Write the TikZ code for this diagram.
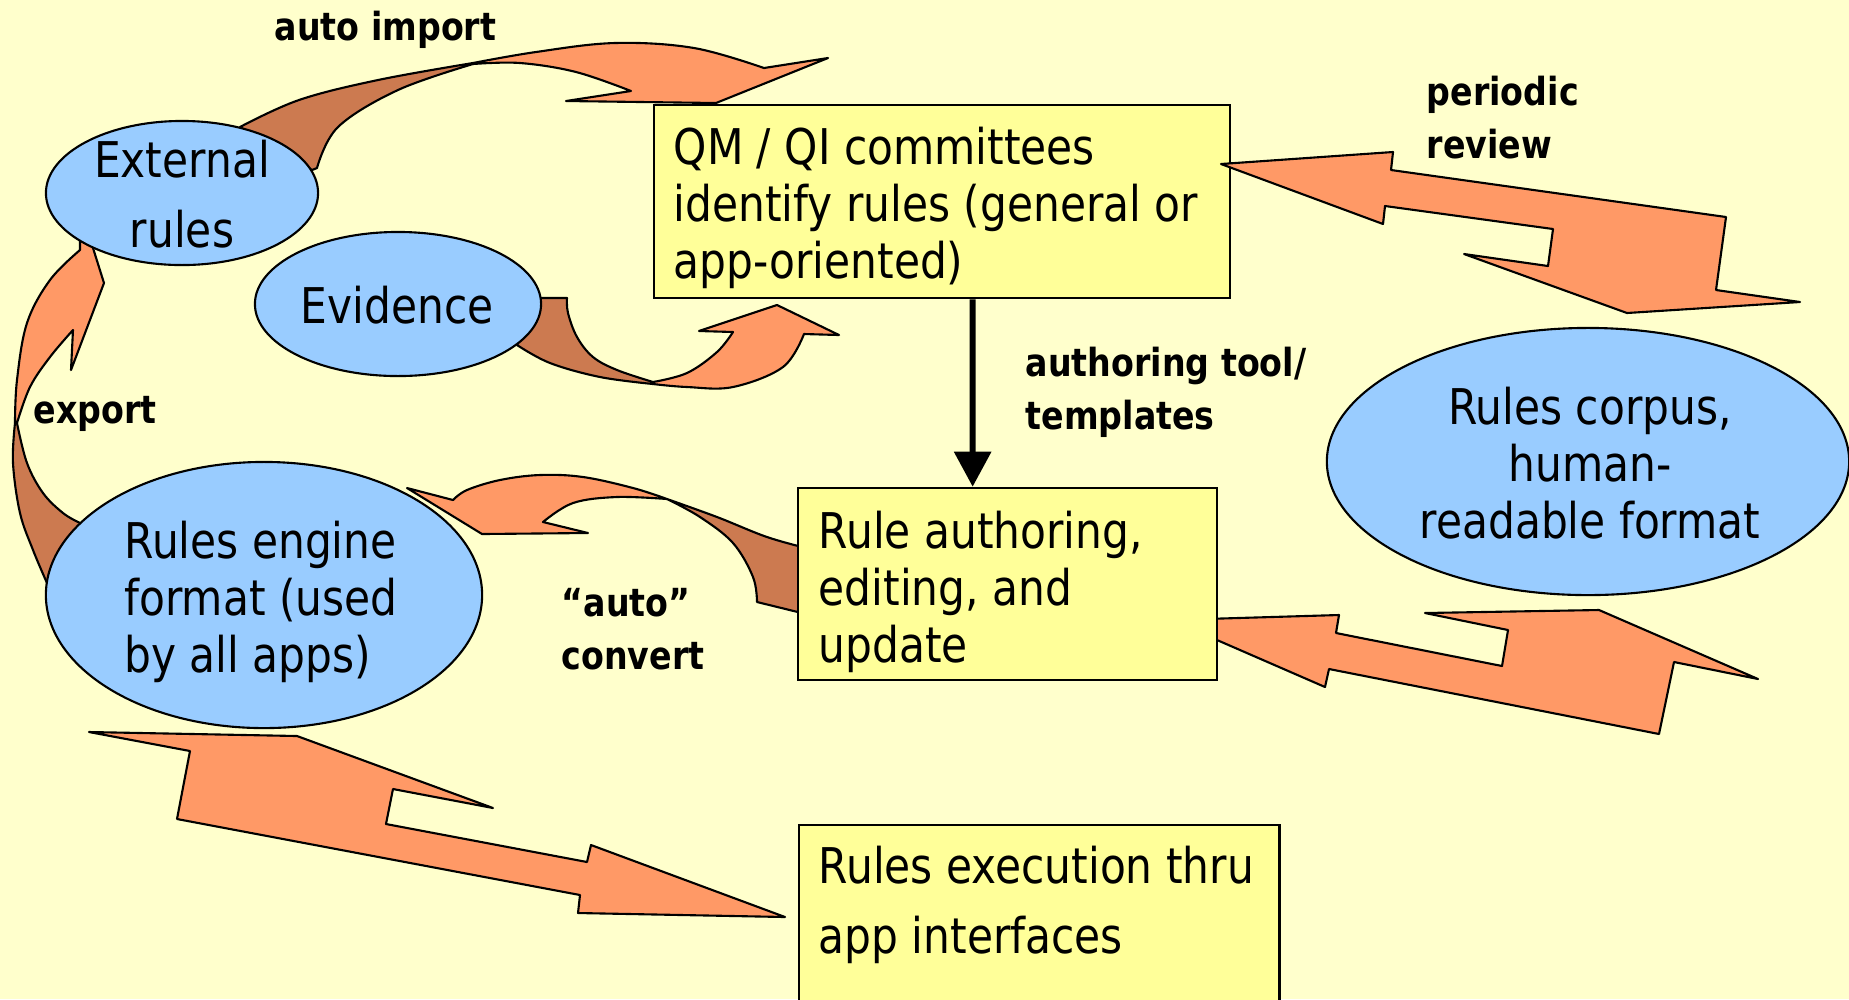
\documentclass[tikz,border=0pt]{standalone}
\usepackage{fontspec}
\setmainfont[FakeStretch=0.86]{DejaVu Sans}
\usetikzlibrary{arrows.meta,calc,shapes.geometric}
\definecolor{bgc}{HTML}{FFFFCC}
\definecolor{boxc}{HTML}{FFFF99}
\definecolor{ellc}{HTML}{99CCFF}
\definecolor{arrl}{HTML}{FF9966}
\definecolor{arrd}{HTML}{CC7A50}
\tikzset{
 ybox/.style={draw=black, line width=0.7pt, fill=boxc, rectangle, inner sep=0pt},
 bell/.style={draw=black, line width=0.6pt, fill=ellc, ellipse, inner sep=0pt},
 btxt/.style={font=\fontsize{14pt}{16.2pt}\selectfont, inner sep=0pt},
 lbl/.style={font=\bfseries\fontsize{11pt}{15pt}\selectfont, inner sep=0pt, align=left, anchor=west},
 lightarr/.style={fill=arrl, draw=black, line width=0.6pt, line join=round},
 darkarr/.style={fill=arrd, draw=black, line width=0.6pt, line join=round},
 flow/.style={draw=black, line width=1.7pt, -{Triangle[width=0.36cm,length=0.35cm]}},
}
\begin{document}
\begin{tikzpicture}[x=0.01cm,y=-0.01cm]
\useasboundingbox (0,0) rectangle (1849,999);
\clip (0,0) rectangle (1849,999);
\fill[bgc] (0,0) rectangle (1849,999);

% auto import curved arrow
\path[darkarr] (240,127) -- plot[smooth,tension=0.6] coordinates {(240,127) (299,100) (378,80) (473,63)} -- plot[smooth,tension=0.6] coordinates {(473,64) (398,90) (338,127) (317,168)} -- (312,170) -- cycle;
\path[lightarr] (473,63) -- plot[smooth,tension=0.6] coordinates {(473,63) (536,52) (615,43) (694,48) (764,68)} -- (828,58) -- (716,103) -- (566,101) -- (631,91) -- plot[smooth,tension=0.6] coordinates {(631,91) (576,72) (520,63) (473,64)} -- cycle;

% evidence curved arrow
\path[darkarr] (540,298) -- (567,298) -- plot[smooth,tension=0.6] coordinates {(567,298) (568,313) (577,337) (593,357) (617,370) (653,382)} -- plot[smooth,tension=0.6] coordinates {(653,384) (600,377) (550,363) (517,345)} -- cycle;
\path[lightarr] (653,383) -- plot[smooth,tension=0.6] coordinates {(653,384) (687,387) (733,387) (783,367) (804,334)} -- (839,335) -- (777,305) -- (699,331) -- (733,332) -- plot[smooth,tension=0.6] coordinates {(733,332) (717,352) (687,373) (653,382)} -- cycle;

% export curved arrow
\path[lightarr] (15,423) -- plot[smooth,tension=0.6] coordinates {(15,423) (17,380) (27,323) (50,280) (80,250)} -- (80,235) -- (90,232) -- (93,248) -- (104,283) -- (71,370) -- (73,330) -- plot[smooth,tension=0.6] coordinates {(73,330) (50,357) (30,387) (17,423)} -- cycle;
\path[darkarr] (15,423) -- plot[smooth,tension=0.6] coordinates {(15,423) (13,463) (20,513) (33,550) (47,583)} -- (85,540) -- (80,523) -- plot[smooth,tension=0.6] coordinates {(80,523) (63,513) (43,493) (27,463) (17,423)} -- cycle;

% auto convert curved arrow
\path[lightarr] (407,488) -- (453,500) -- plot[smooth,tension=0.6] coordinates {(453,500) (467,490) (500,480) (540,475) (583,477) (633,488) (667,499)} -- plot[smooth,tension=0.6] coordinates {(667,499) (617,497) (573,503) (543,522)} -- (588,533) -- (482,534) -- cycle;
\path[darkarr] (667,499) -- plot[smooth,tension=0.6] coordinates {(667,499) (717,517) (767,537) (810,549)} -- (810,615) -- (757,602) -- plot[smooth,tension=0.6] coordinates {(757,602) (753,577) (733,543) (700,517) (667,499)} -- cycle;

% authoring <-> corpus zigzag arrow
\path[lightarr] (1171,620) -- (1339,615) -- (1336,633) -- (1502,666) -- (1508,630) -- (1425,613) -- (1599,610) -- (1758,679) -- (1674,662) -- (1659,734) -- (1329,669) -- (1325,687) -- cycle;

% engine <-> execution zigzag arrow
\path[lightarr] (89,732) -- (297,736) -- (493,808) -- (393,789) -- (386,824) -- (587,862) -- (591,845) -- (785,917) -- (578,913) -- (580,895) -- (177,819) -- (190,751) -- cycle;

% ellipses
\node[bell, minimum width=2.72cm, minimum height=1.44cm] (ext) at (182,193) {};
\node[btxt, align=center, font=\fontsize{14pt}{19.9pt}\selectfont] (exttxt) at (182,194) {External\\rules};
\node[bell, minimum width=2.86cm, minimum height=1.44cm] (evi) at (398,304) {};
\node[btxt] (evitxt) at (397,305) {Evidence};
\node[bell, minimum width=4.36cm, minimum height=2.66cm] (eng) at (264,595) {};
\node[btxt, align=left] (engtxt) at (261,602) {Rules engine\\format (used\\by all apps)};
\node[bell, minimum width=5.22cm, minimum height=2.67cm] (cor) at (1588,461.5) {};
\node[btxt, align=center] (cortxt) at (1590,463) {Rules corpus,\\human-\\readable format};

% boxes
\node[ybox, minimum width=5.76cm, minimum height=1.93cm] (qm) at (942,201.5) {};
\node[btxt, align=left, anchor=west] (qmtxt) at (673,208) {QM / QI committees\\identify rules (general or\\app-oriented)};
\node[ybox, minimum width=4.19cm, minimum height=1.92cm] (ra) at (1007.5,584) {};
\node[btxt, align=left, anchor=west] (ratxt) at (818,592) {Rule authoring,\\editing, and\\update};
\node[ybox, minimum width=4.80cm, minimum height=2.4cm, anchor=north west] (exe) at (798,824) {};
\node[btxt, align=left, anchor=west, font=\fontsize{14pt}{19.9pt}\selectfont] (exetxt) at (818,905) {Rules execution thru\\app interfaces};

% periodic review zigzag arrow (over the box)
\path[lightarr] (1221,164) -- (1393,152) -- (1391,170) -- (1726,217) -- (1716,290) -- (1800,302) -- (1627,313) -- (1464,254) -- (1548,266) -- (1553,229) -- (1385,206) -- (1383,224) -- cycle;

% authoring tool connector
\draw[flow] ($(qm.south west)+(320,0)$) -- ($(ra.north west)+(176,0)$);

% labels
\node[lbl] (limp) at (274,30) {auto import};
\node[lbl] (lper) at (1426,117.5) {periodic\\review};
\node[lbl] (laut) at (1025,392.5) {authoring tool/\\templates};
\node[lbl] (lexp) at (33,413.5) {export};
\node[lbl] (lconv) at (561,629.5) {“auto”\\convert};
\end{tikzpicture}
\end{document}
